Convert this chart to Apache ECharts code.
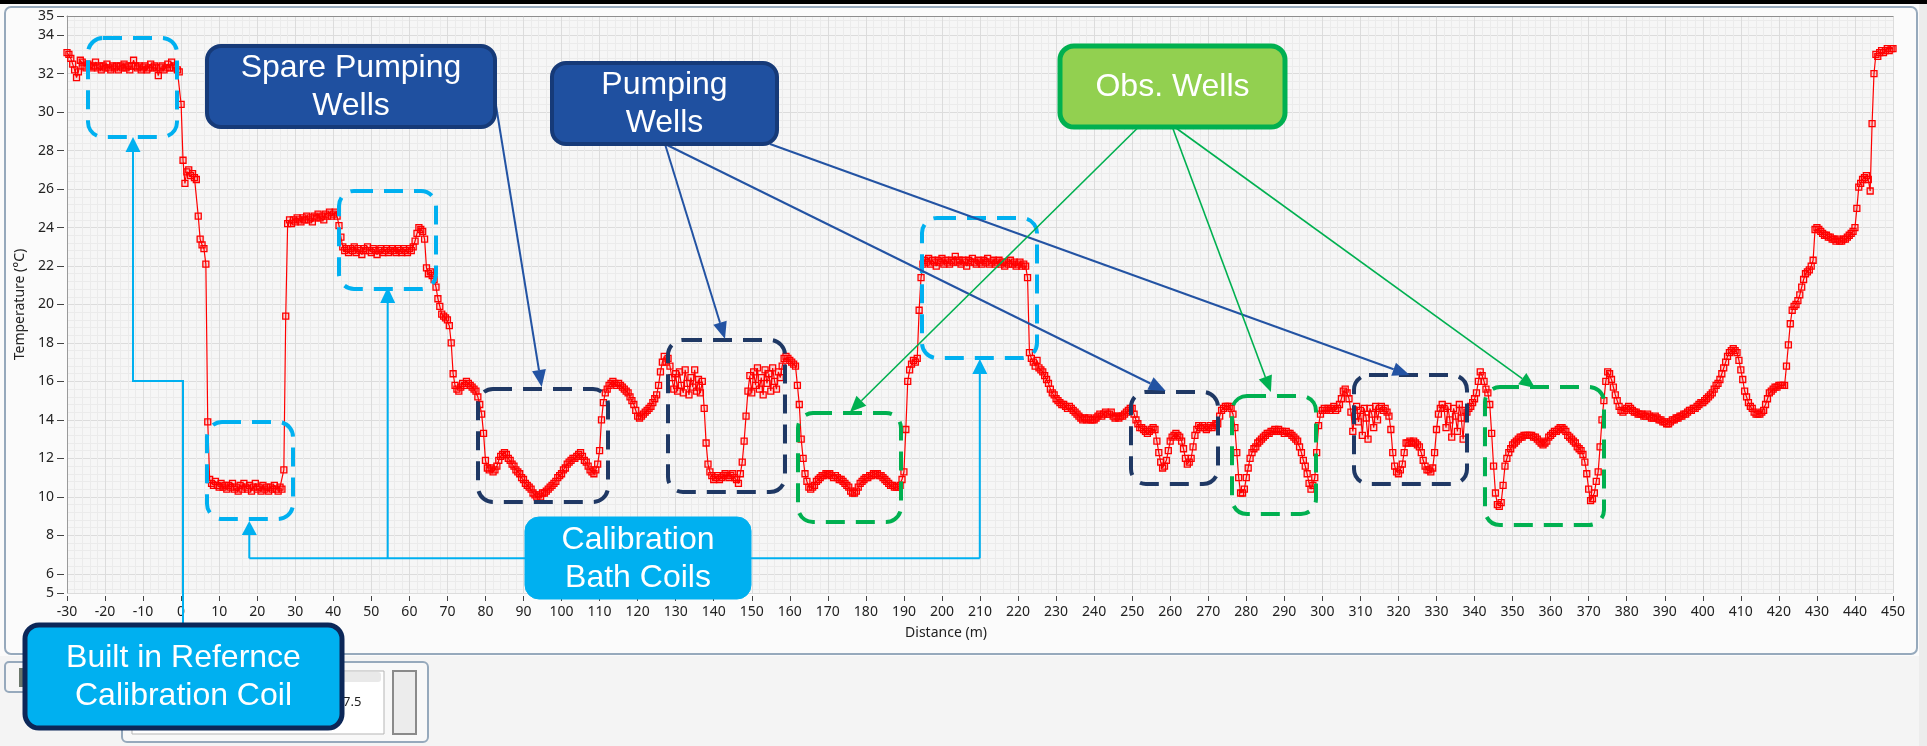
<!DOCTYPE html>
<html><head><meta charset="utf-8">
<script src="https://cdn.jsdelivr.net/npm/echarts@6/dist/echarts.min.js"></script>
<style>html,body{margin:0;padding:0;background:#fafafa;}#chart{width:1927px;height:746px;}</style>
</head><body><div id="chart"></div>
<script>
// ---------- DATA (temperature °C, sampled every 0.5 m; each array starts at the named distance) ----------
const sampleStep = 0.5;
const temp_m30 = [
33.1,33.0,32.8,32.5,32.2,31.8,32.1,32.7,32.6,32.4,
32.3,32.5,32.4,32.3,32.4,32.6,32.3,32.4,32.2,32.4,
32.3,32.5,32.3,32.2,32.4,32.3,32.4,32.2,32.4,32.3,
32.5,32.3,32.4,32.2,32.4,32.7,32.4,32.3,32.4,32.2,
32.3,32.4,32.2,32.3,32.5,32.3,32.4,32.3,31.9,32.3,
32.4,32.2,32.3,32.5,32.3,32.6,32.3,32.4,32.2,32.1];
const temp_0 = [
30.4,27.5,26.3,26.9,27.0,26.7,26.8,26.6,26.5,24.6,
23.4,23.1,22.9,22.1,13.9,10.9,10.7,10.6,10.8,10.6,
10.5,10.7,10.5,10.6,10.4,10.6,10.5,10.7,10.4,10.5,
10.3,10.6,10.4,10.7,10.5,10.4,10.6,10.3,10.5,10.7,
10.4,10.5,10.3,10.6,10.4,10.5,10.3,10.5,10.4,10.6,
10.4,10.3,10.5,10.4,11.4,19.4,24.2,24.4,24.2,24.4];
const temp_30 = [
24.3,24.5,24.4,24.3,24.5,24.4,24.6,24.4,24.5,24.3,
24.6,24.5,24.7,24.5,24.6,24.4,24.7,24.6,24.8,24.6,
24.7,24.8,24.6,24.1,23.5,23.0,22.8,22.9,22.7,22.9,
22.8,23.0,22.7,22.9,22.8,22.6,22.9,22.8,23.0,22.8,
22.7,22.9,22.8,22.6,22.8,22.9,22.7,22.8,22.9,22.7,
22.8,22.9,22.8,22.7,22.9,22.8,22.7,22.9,22.8,22.7];
const temp_60 = [
22.9,22.8,23.0,23.3,23.7,24.0,23.9,23.8,23.4,21.9,
21.6,21.7,21.5,21.3,20.9,20.3,19.9,19.5,19.4,19.3,
19.2,18.9,18.0,16.4,15.8,15.6,15.5,15.7,15.9,15.8,
16.0,15.9,15.8,15.7,15.6,15.5,15.2,14.8,14.3,13.3,
11.9,11.5,11.4,11.5,11.3,11.4,11.6,11.9,12.1,12.2,
12.3,12.2,12.0,11.9,11.7,11.6,11.4,11.3,11.2,11.0];
const temp_90 = [
10.9,10.7,10.6,10.5,10.4,10.2,10.1,10.0,10.1,10.0,
10.2,10.2,10.3,10.4,10.5,10.6,10.7,10.8,11.0,11.1,
11.2,11.4,11.5,11.7,11.8,11.9,12.0,12.0,12.1,12.2,
12.3,12.1,11.9,11.8,11.6,11.4,11.3,11.2,11.4,11.7,
12.4,14.0,14.9,15.4,15.6,15.8,15.9,16.0,15.9,15.8,
15.9,15.8,15.7,15.6,15.5,15.4,15.2,15.0,14.8,14.5];
const temp_120 = [
14.2,14.1,14.2,14.3,14.4,14.5,14.6,14.7,14.9,15.1,
15.3,15.8,16.5,17.0,17.3,17.0,17.2,16.8,16.2,15.6,
16.4,15.5,16.5,15.8,15.4,16.6,15.9,15.3,16.2,15.7,
16.6,15.5,16.1,15.4,16.0,14.6,12.8,11.7,11.3,11.1,
10.9,11.0,11.1,10.9,11.0,11.1,11.2,11.1,11.0,11.1,
11.2,11.0,10.9,10.7,11.2,11.8,12.9,14.2,15.5,16.3];
const temp_150 = [
15.4,16.5,15.8,16.7,15.6,16.2,15.3,16.6,15.9,16.4,
15.5,16.7,16.0,15.6,16.5,16.2,16.8,17.2,17.3,17.2,
17.1,17.0,16.9,16.8,15.8,14.8,13.0,12.0,11.2,10.8,
10.5,10.4,10.5,10.6,10.8,10.9,11.0,11.1,11.1,11.2,
11.2,11.2,11.1,11.0,11.1,11.0,10.9,10.9,10.8,10.7,
10.6,10.5,10.3,10.2,10.2,10.3,10.5,10.7,10.8,10.9];
const temp_180 = [
11.0,11.0,11.1,11.1,11.2,11.2,11.2,11.1,11.1,11.0,
10.9,10.8,10.7,10.6,10.6,10.5,10.5,10.5,10.6,10.9,
11.3,13.5,16.0,16.6,16.9,17.1,17.0,17.2,19.7,21.4,
22.1,22.3,22.2,22.4,22.1,22.3,22.2,22.0,22.3,22.2,
22.4,22.1,22.3,22.2,22.1,22.3,22.2,22.5,22.2,22.3,
22.1,22.3,22.2,22.0,22.3,22.2,22.4,22.2,22.1,22.3];
const temp_210 = [
22.2,22.1,22.3,22.2,22.4,22.1,22.2,22.3,22.1,22.2,
22.3,22.1,22.2,22.0,22.2,22.1,22.3,22.1,22.2,22.0,
22.1,22.2,22.0,22.1,22.0,21.4,17.5,17.2,17.0,16.8,
17.1,16.7,16.6,16.5,16.3,16.1,15.9,15.6,15.4,15.3,
15.1,15.0,14.9,14.8,14.8,14.7,14.6,14.7,14.6,14.5,
14.4,14.3,14.2,14.1,14.0,14.1,14.0,14.1,14.0,14.0];
const temp_240 = [
14.0,14.1,14.2,14.3,14.2,14.3,14.4,14.3,14.3,14.4,
14.2,14.1,14.2,14.1,14.2,14.2,14.3,14.4,14.5,14.6,
14.6,14.3,14.0,13.8,13.6,13.6,13.5,13.4,13.3,13.4,
13.5,13.6,13.5,12.9,12.3,11.8,11.5,11.6,11.9,12.4,
12.9,13.1,13.2,13.3,13.2,13.1,12.9,12.5,12.0,11.7,
11.8,12.0,12.6,13.2,13.5,13.7,13.6,13.7,13.6,13.5];
const temp_270 = [
13.6,13.7,13.6,13.7,13.8,13.8,14.2,14.5,14.6,14.7,
14.7,14.7,14.6,14.3,13.6,12.3,11.0,10.2,10.2,10.4,
11.0,11.5,12.0,12.3,12.5,12.6,12.8,12.9,13.0,13.1,
13.2,13.3,13.3,13.4,13.4,13.5,13.4,13.5,13.4,13.4,
13.3,13.4,13.3,13.3,13.2,13.1,13.0,12.9,12.6,12.3,
11.9,11.6,11.2,10.7,10.4,10.6,11.0,12.3,13.7,14.3];
const temp_300 = [
14.5,14.6,14.5,14.6,14.5,14.6,14.7,14.5,14.6,14.8,
15.1,15.5,15.6,15.4,15.1,14.4,13.4,14.2,14.7,13.9,
14.5,13.2,14.6,14.1,13.0,14.6,14.3,13.6,14.7,14.0,
14.6,14.7,14.5,14.6,14.4,14.2,13.5,12.3,11.6,11.3,
11.2,11.4,11.7,12.3,12.8,12.8,12.9,12.8,12.9,12.8,
12.7,12.6,12.3,11.9,11.6,11.4,11.4,11.3,11.5,12.3];
const temp_330 = [
13.5,14.3,14.6,14.8,14.6,13.6,14.7,14.0,13.1,14.6,
14.2,13.4,14.8,14.1,13.0,14.5,14.4,14.6,14.7,14.9,
15.1,15.4,16.0,16.5,16.3,16.0,15.6,15.4,14.8,13.3,
11.6,10.2,9.6,9.5,9.7,10.6,11.6,12.0,12.3,12.5,
12.7,12.8,12.9,13.0,13.1,13.1,13.2,13.2,13.2,13.2,
13.2,13.1,13.1,13.0,12.9,12.8,12.7,12.8,12.9,13.1];
const temp_360 = [
13.2,13.3,13.4,13.4,13.5,13.6,13.6,13.5,13.4,13.2,
13.1,13.0,12.9,12.8,12.6,12.5,12.4,12.2,11.8,11.2,
10.4,9.8,9.9,10.2,10.8,11.3,12.6,14.0,15.0,16.0,
16.5,16.4,16.1,15.7,15.3,15.0,14.7,14.5,14.4,14.5,
14.6,14.7,14.6,14.5,14.4,14.4,14.3,14.3,14.3,14.2,
14.2,14.3,14.2,14.1,14.1,14.2,14.1,14.0,14.0,13.9];
const temp_390 = [
13.9,13.8,13.8,13.9,14.0,14.0,14.1,14.1,14.2,14.2,
14.3,14.3,14.4,14.5,14.5,14.6,14.6,14.7,14.8,14.9,
14.9,15.0,15.1,15.2,15.3,15.4,15.6,15.8,15.9,16.1,
16.4,16.7,17.0,17.3,17.5,17.6,17.7,17.6,17.5,17.1,
16.6,16.1,15.5,15.2,14.9,14.7,14.6,14.4,14.3,14.3,
14.3,14.4,14.5,14.8,15.1,15.4,15.5,15.6,15.7,15.7];
const temp_420 = [
15.8,15.8,15.8,15.8,16.8,17.9,19.0,19.7,19.9,20.0,
20.2,20.5,20.9,21.3,21.6,21.7,21.8,22.0,22.3,23.9,
24.0,23.9,23.8,23.7,23.6,23.6,23.5,23.5,23.4,23.4,
23.3,23.4,23.3,23.3,23.4,23.4,23.5,23.6,23.7,23.8,
24.0,25.0,26.1,26.3,26.5,26.6,26.7,26.5,25.9,29.4,
32.0,33.0,32.9,33.1,33.2,33.1,33.2,33.3,33.2,33.3,
33.3];
const segments = [[-30,temp_m30],[0,temp_0],[30,temp_30],[60,temp_60],[90,temp_90],[120,temp_120],
  [150,temp_150],[180,temp_180],[210,temp_210],[240,temp_240],[270,temp_270],[300,temp_300],
  [330,temp_330],[360,temp_360],[390,temp_390],[420,temp_420]];
const xTickMin = -30, xTickMax = 450, xTickStep = 10;
const yTickLabels = [5,6,8,10,12,14,16,18,20,22,24,26,28,30,32,34,35];
const xAxisTitle = 'Distance (m)';
const yAxisTitle = 'Temperature (°C)';

// ---------- build ----------
const seriesData = [];
segments.forEach(([start, vals]) => vals.forEach((t, i) => seriesData.push([start + i * sampleStep, t])));
const yMinorGrid = [];
for (let k = 52; k < 350; k += 4) { if (k % 20 !== 0) yMinorGrid.push(k / 10); }

const CYAN = '#00b0f0', NAVY = '#1f3864', NAVYA = '#2353a3', GREEN = '#00b050';
const AX_FONT = '"Noto Sans", "Liberation Sans", sans-serif';
const CALL_FONT = '"Liberation Sans", Arial, sans-serif';

function dashedBox(x1, y1, x2, y2, color) {
  return {type:'rect', z:100, shape:{x:x1, y:y1, width:x2-x1, height:y2-y1, r:15},
    style:{fill:null, stroke:color, lineWidth:4, lineDash:[19,11]}};
}
function arrow(pts, color, lw, hl, hw) {
  const n = pts.length, tip = pts[n-1], prev = pts[n-2];
  const dx = tip[0]-prev[0], dy = tip[1]-prev[1], L = Math.hypot(dx, dy);
  const ux = dx/L, uy = dy/L;
  const bx = tip[0]-ux*hl, by = tip[1]-uy*hl;
  return [
    {type:'polyline', z:110, shape:{points: pts.slice(0, n-1).concat([[bx, by]])}, style:{stroke:color, lineWidth:lw, fill:null}},
    {type:'polygon', z:110, shape:{points:[tip, [bx-uy*hw/2, by+ux*hw/2], [bx+uy*hw/2, by-ux*hw/2]]}, style:{fill:color}}
  ];
}
function callout(x1, y1, x2, y2, fill, stroke, sw, text) {
  const els = [{type:'rect', z:120, shape:{x:x1, y:y1, width:x2-x1, height:y2-y1, r:14},
    style:{fill:fill, stroke:stroke, lineWidth:sw}}];
  els.push({type:'text', z:121, style:{text:text, x:(x1+x2)/2, y:(y1+y2)/2+1, align:'center', verticalAlign:'middle',
    fill:'#ffffff', fontSize:32, fontFamily:CALL_FONT, lineHeight:38}});
  return els;
}

let graphics = [
  // window chrome
  {type:'rect', z:1, shape:{x:0, y:0, width:1927, height:4}, style:{fill:'#000'}},
  {type:'rect', z:1, shape:{x:0, y:656, width:1927, height:90}, style:{fill:'#f4f4f4'}},
  {type:'rect', z:1, shape:{x:1919, y:4, width:8, height:742}, style:{fill:'#ececec'}},
  {type:'rect', z:2, shape:{x:5, y:7, width:1912, height:647, r:6}, style:{fill:null, stroke:'#96a9bc', lineWidth:2}},
  {type:'rect', z:2, shape:{x:5, y:662, width:70, height:30, r:4}, style:{fill:'#f6f6f6', stroke:'#96a9bc', lineWidth:2}},
  {type:'rect', z:3, shape:{x:19, y:668, width:7, height:19}, style:{fill:'#6b776b'}},
  {type:'rect', z:2, shape:{x:122, y:662, width:306, height:80, r:5}, style:{fill:'#f8f8f8', stroke:'#96a9bc', lineWidth:2}},
  {type:'rect', z:3, shape:{x:132, y:671, width:252, height:63}, style:{fill:'#ffffff', stroke:'#b5b5b5', lineWidth:1}},
  {type:'rect', z:3, shape:{x:133, y:672, width:248, height:10, r:3}, style:{fill:'#e9e9e9'}},
  {type:'rect', z:3, shape:{x:393, y:671, width:23, height:63}, style:{fill:'#ececec', stroke:'#8a8a8a', lineWidth:2}},
  {type:'text', z:4, style:{text:'7.5', x:343, y:702, align:'left', verticalAlign:'middle', fill:'#222', fontSize:13, fontFamily:AX_FONT}},
  // dashed region boxes
  dashedBox(88, 38, 177, 137, CYAN),
  dashedBox(207, 422, 293, 519, CYAN),
  dashedBox(339, 191, 436, 289, CYAN),
  dashedBox(922, 218, 1037, 358, CYAN),
  dashedBox(478, 389, 608, 502, NAVY),
  dashedBox(668, 340, 785, 492, NAVY),
  dashedBox(1131, 392, 1218, 484, NAVY),
  dashedBox(1354, 375, 1467, 484, NAVY),
  dashedBox(798, 413, 901, 522, GREEN),
  dashedBox(1232, 396, 1316, 514, GREEN),
  dashedBox(1485, 387, 1604, 525, GREEN),
  // cyan connectors
  {type:'polyline', z:110, shape:{points:[[249.3,558.3],[979.8,558.3]]}, style:{stroke:CYAN, lineWidth:2, fill:null}}
];
graphics = graphics.concat(
  arrow([[183,625],[183,381],[133,381],[133,137]], CYAN, 2, 15, 15),
  arrow([[249.3,558.3],[249.3,521]], CYAN, 2, 14, 15),
  arrow([[387.7,558.3],[387.7,287]], CYAN, 2, 16, 15),
  arrow([[979.8,558.3],[979.8,359]], CYAN, 2, 15, 15),
  arrow([[493,87],[541.7,387]], NAVYA, 2, 17, 14),
  arrow([[665,144],[725,339]], NAVYA, 2, 17, 14),
  arrow([[665,144],[1165.7,391]], NAVYA, 2, 17, 14),
  arrow([[770,144],[1409.6,375]], NAVYA, 2, 17, 14),
  arrow([[1137.6,128],[850,412]], GREEN, 1.6, 16, 14),
  arrow([[1172.7,128],[1270.9,392]], GREEN, 1.6, 16, 14),
  arrow([[1176,128],[1535.2,388]], GREEN, 1.6, 16, 14),
  callout(207, 46, 495, 127, '#1f50a0', '#163a78', 4, 'Spare Pumping\nWells'),
  callout(552, 63, 777, 144, '#1f50a0', '#163a78', 4, 'Pumping\nWells'),
  callout(1060, 46, 1285, 127, '#92d050', GREEN, 5, 'Obs. Wells'),
  callout(525, 517, 751, 599, CYAN, CYAN, 1, 'Calibration\nBath Coils'),
  callout(25, 625, 342, 728, CYAN, '#0c2758', 5, 'Built in Refernce\nCalibration Coil')
);

const chart = echarts.init(document.getElementById('chart'), null, {renderer:'canvas'});
chart.setOption({
  animation: false,
  backgroundColor: '#fbfbfb',
  grid: {left:67, right:34, top:16, bottom:153, show:true, backgroundColor:'#f6f6f6', borderWidth:0},
  xAxis: [{
    type:'value', min:xTickMin, max:xTickMax, interval:xTickStep, position:'bottom', offset:3,
    axisLine:{show:false, onZero:false},
    axisTick:{show:true, length:5, lineStyle:{color:'#444'}},
    axisLabel:{margin:9, color:'#222', fontSize:14, fontFamily:AX_FONT},
    splitLine:{show:true, lineStyle:{color:'#dcdcdc', width:1}},
    minorTick:{show:false, splitNumber:5},
    minorSplitLine:{show:true, lineStyle:{color:'#ebebeb', width:1}},
    name:xAxisTitle, nameLocation:'middle', nameGap:30,
    nameTextStyle:{color:'#222', fontSize:14, fontFamily:AX_FONT, padding:[0,68,0,0]}
  }, {
    type:'value', min:xTickMin, max:xTickMax, position:'top',
    axisLine:{show:true, onZero:false, lineStyle:{color:'#8e8e8e', width:1}},
    axisTick:{show:false}, axisLabel:{show:false}, splitLine:{show:false}
  }],
  yAxis: [{
    type:'value', min:5, max:35, position:'left', offset:3,
    axisLine:{show:false, onZero:false},
    axisTick:{show:true, length:7, customValues:yTickLabels, lineStyle:{color:'#444'}},
    axisLabel:{customValues:yTickLabels, margin:10, color:'#222', fontSize:14, fontFamily:AX_FONT},
    splitLine:{show:true, lineStyle:{color:'#dcdcdc', width:1}},
    name:yAxisTitle, nameLocation:'middle', nameGap:32, nameRotate:90,
    nameTextStyle:{color:'#222', fontSize:14, fontFamily:AX_FONT}
  }, {
    type:'value', min:5, max:35, position:'left',
    axisLine:{show:true, onZero:false, lineStyle:{color:'#9a9a9a', width:1}},
    axisTick:{show:false, customValues:yMinorGrid},
    axisLabel:{show:false},
    splitLine:{show:true, lineStyle:{color:'#ebebeb', width:1}}
  }],
  series: [{
    type:'line', xAxisIndex:0, yAxisIndex:0, data:seriesData,
    symbol:'rect', symbolSize:6, showSymbol:true, z:5,
    lineStyle:{color:'#ff0000', width:1.2},
    itemStyle:{color:'rgba(255,0,0,0.12)', borderColor:'#ff0000', borderWidth:1.3},
    emphasis:{disabled:true}
  }],
  graphic: graphics
});
</script>
</body></html>
